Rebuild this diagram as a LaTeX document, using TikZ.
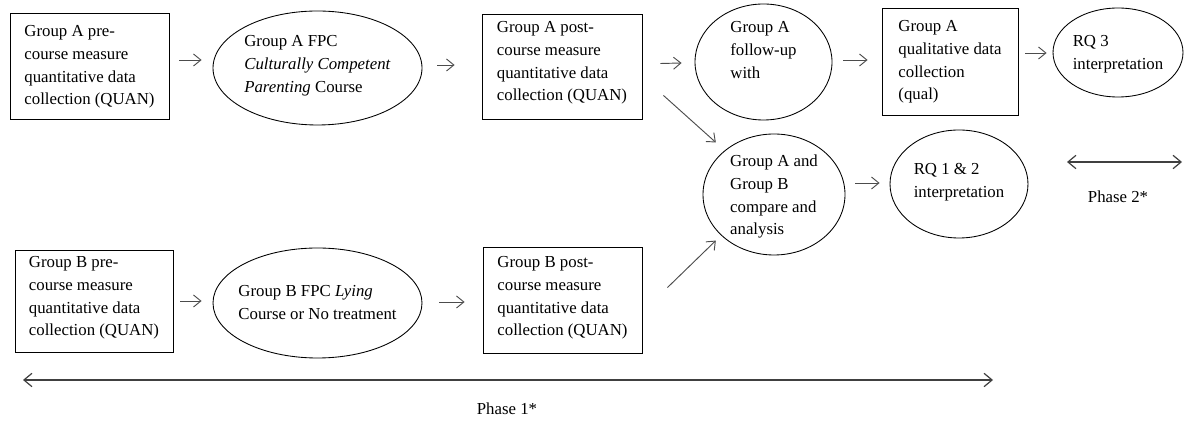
\documentclass[tikz,border=0pt]{standalone}
\usepackage{fontspec}
\setmainfont{Liberation Serif}
\usetikzlibrary{arrows.meta,shapes.geometric}
\newcommand\mylines[1]{\begin{tabular}[t]{@{}l@{}}#1\end{tabular}}
\begin{document}
\begin{tikzpicture}[x=0.75pt,y=-0.75pt,
  every node/.style={font=\fontsize{12.6}{17}\selectfont, inner sep=0pt, text=black},
  boxnode/.style={draw=black, rectangle, line width=0.65pt, text height=0pt},
  ovalnode/.style={draw=black, ellipse, line width=0.65pt, inner sep=-12pt, text height=0pt},
  conn/.style={draw=black!70, line width=0.7pt, -{Straight Barb[length=5.5pt,width=9pt]}},
  phasearrow/.style={draw=black!75, line width=0.9pt, {Straight Barb[length=6pt,width=10pt]}-{Straight Barb[length=6pt,width=10pt]}}
]
\useasboundingbox (0,0) rectangle (1185,423);

% top row
\node[boxnode, minimum width=119.25pt, minimum height=79.5pt, text depth=43.5pt] (A1) at (89.5,66)
  {\mylines{Group A pre-\\course measure\\quantitative data\\collection (QUAN)}};
\node[ovalnode, minimum width=156.75pt, minimum height=85.5pt, text depth=31.5pt] (A2) at (317.5,68)
  {\mylines{Group A FPC\\\textit{Culturally Competent}\\\textit{Parenting} Course}};
\node[boxnode, minimum width=120pt, minimum height=78.75pt, text depth=50.25pt] (A3) at (562,66.5)
  {\mylines{Group A post-\\course measure\\quantitative data\\collection (QUAN)}};
\node[ovalnode, minimum width=102.75pt, minimum height=87pt, text depth=43.5pt] (A4) at (763.5,62)
  {\mylines{Group A\\follow-up\\with}};
\node[boxnode, minimum width=102pt, minimum height=80.25pt, text depth=44.25pt] (A5) at (950,61.5)
  {\mylines{Group A\\qualitative data\\collection\\(qual)}};
\node[ovalnode, minimum width=97.5pt, minimum height=66.75pt, text depth=8.25pt] (A6) at (1118,52.5)
  {\mylines{RQ 3\\interpretation}};

% middle
\node[ovalnode, minimum width=106.5pt, minimum height=90.75pt, text depth=41.25pt] (C) at (774,194.5)
  {\mylines{Group A and\\Group B\\compare and\\analysis}};
\node[ovalnode, minimum width=103.5pt, minimum height=81pt, text depth=13.5pt] (RQ) at (959,184)
  {\mylines{RQ 1 \& 2\\interpretation}};

% bottom row
\node[boxnode, minimum width=118.5pt, minimum height=76.5pt, text depth=49.5pt] (B1) at (94,301)
  {\mylines{Group B pre-\\course measure\\quantitative data\\collection (QUAN)}};
\node[ovalnode, minimum width=156.75pt, minimum height=82.5pt, text depth=9pt] (B2) at (317.5,303)
  {\mylines{Group B FPC \textit{Lying}\\Course or No treatment}};
\node[boxnode, minimum width=119.25pt, minimum height=79.5pt, text depth=48pt] (B3) at (562.5,300)
  {\mylines{Group B post-\\course measure\\quantitative data\\collection (QUAN)}};

% connectors
\draw[conn] ([shift={(10,-6)}]A1.east) -- ([shift={(-11,-8)}]A2.west);
\draw[conn] ([shift={(15,-3)}]A2.east) -- ([shift={(-27,-1.5)}]A3.west);
\draw[conn] ([shift={(18,-3)}]A3.east) -- ([shift={(-13,1)}]A4.west);
\draw[conn] ([shift={(11,-2)}]A4.east) -- ([shift={(-14,-1.5)}]A5.west);
\draw[conn] ([shift={(7,-8.5)}]A5.east) -- ([shift={(-6,0.5)}]A6.west);
\draw[conn] ([shift={(21,-24)}]A3.south east) -- ([shift={(-11.8,-5.7)}]C.135);
\draw[conn] ([shift={(25,41)}]B3.north east) -- ([shift={(-11.8,-0.3)}]C.225);
\draw[conn] ([shift={(10,-11.5)}]C.east) -- ([shift={(-10,-1)}]RQ.west);
\draw[conn] ([shift={(7,0)}]B1.east) -- ([shift={(-11,-2)}]B2.west);
\draw[conn] ([shift={(17,-1)}]B2.east) -- ([shift={(-18,2)}]B3.west);

% phases
\coordinate (p1l) at (23,380);
\coordinate (p1r) at (993,380);
\coordinate (p2l) at (1067,162);
\coordinate (p2r) at (1182,162);
\draw[phasearrow] (p1l) -- (p1r);
\draw[phasearrow] (p2l) -- (p2r);
\node (ph1) at (507,409) {Phase 1*};
\node (ph2) at (1118,197) {Phase 2*};
\end{tikzpicture}
\end{document}
